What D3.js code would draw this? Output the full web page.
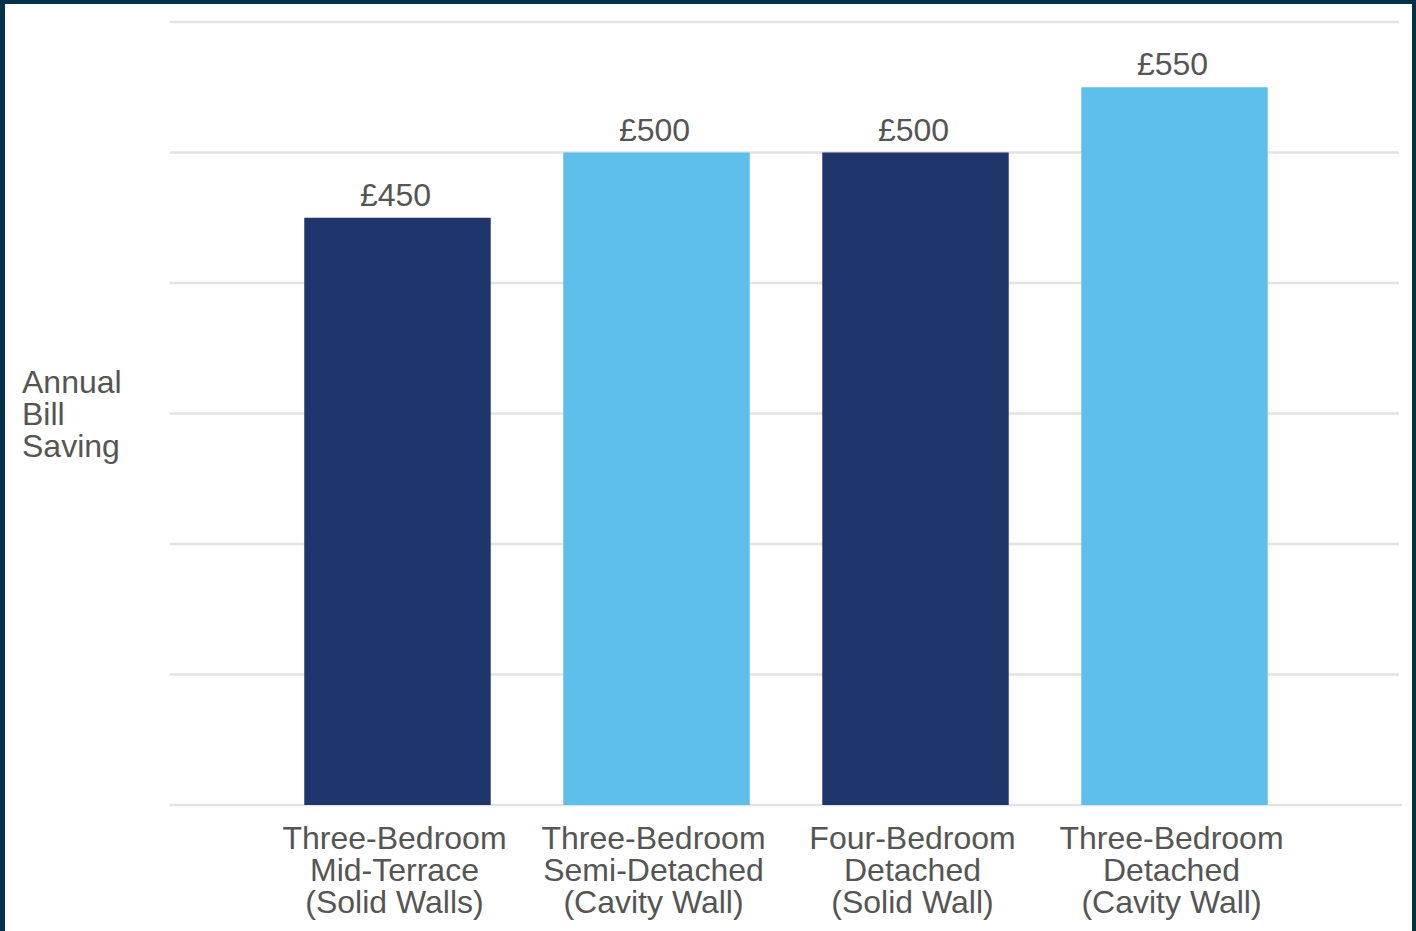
<!DOCTYPE html>
<meta charset="utf-8">
<script src="https://d3js.org/d3.v7.min.js"></script>
<style>
  html, body { margin: 0; padding: 0; background: #ffffff; }
  text { font-family: "Liberation Sans", Arial, sans-serif; fill: #555555; }
</style>
<body>
<div id="my_dataviz"></div>
<script>
    // chart data
    var categories = [
        ["Three-Bedroom", "Mid-Terrace", "(Solid Walls)"],
        ["Three-Bedroom", "Semi-Detached", "(Cavity Wall)"],
        ["Four-Bedroom", "Detached", "(Solid Wall)"],
        ["Three-Bedroom", "Detached", "(Cavity Wall)"]
    ];
    var savings = [450, 500, 500, 550];
    var valueLabels = ["£450", "£500", "£500", "£550"];
    var barColors = ["#1f366c", "#5fbfeb", "#1f366c", "#5fbfeb"];
    var gridTicks = [0, 100, 200, 300, 400, 500, 600];
    var yTitle = ["Annual", "Bill", "Saving"];

    var W = 1416, H = 931;

    var svg = d3.select("#my_dataviz")
        .append("svg")
        .attr("width", W)
        .attr("height", H);

    // dark frame
    svg.append("rect")
        .attr("x", 0).attr("y", 0)
        .attr("width", W).attr("height", H)
        .attr("fill", "#05304c");
    svg.append("rect")
        .attr("x", 5).attr("y", 4)
        .attr("width", 1407).attr("height", H - 4)
        .attr("fill", "#ffffff");

    var x = d3.scaleBand()
        .domain(d3.range(categories.length))
        .range([268, 1304])
        .paddingInner(0.28)
        .paddingOuter(0.14);

    var y = d3.scaleLinear()
        .domain([0, 600])
        .range([805, 22]);

    // gridlines
    svg.append("g")
        .selectAll("line")
        .data(gridTicks)
        .enter().append("line")
        .attr("x1", 170)
        .attr("x2", function(d) { return d === 0 ? 1402 : 1399; })
        .attr("y1", function(d) { return y(d); })
        .attr("y2", function(d) { return y(d); })
        .attr("stroke", "#e3e3e3")
        .attr("stroke-width", 2.5);

    // bars
    svg.append("g")
        .selectAll("rect")
        .data(savings)
        .enter().append("rect")
        .attr("x", function(d, i) { return x(i); })
        .attr("y", function(d) { return y(d); })
        .attr("width", x.bandwidth())
        .attr("height", function(d) { return y(0) - y(d); })
        .attr("fill", function(d, i) { return barColors[i]; });

    // value labels
    svg.append("g")
        .selectAll("text")
        .data(savings)
        .enter().append("text")
        .attr("x", function(d, i) { return x(i) + x.bandwidth() / 2 - 2; })
        .attr("y", function(d) { return y(d) - 12; })
        .attr("text-anchor", "middle")
        .style("font-size", "32px")
        .text(function(d, i) { return valueLabels[i]; });

    // category labels
    var cat = svg.append("g")
        .selectAll("text")
        .data(categories)
        .enter().append("text")
        .attr("text-anchor", "middle")
        .style("font-size", "32px");
    cat.selectAll("tspan")
        .data(function(d, i) { return d.map(function(s) { return { s: s, i: i }; }); })
        .enter().append("tspan")
        .attr("x", function(d) { return x(d.i) + x.bandwidth() / 2 - 3; })
        .attr("y", function(d, j) { return 849 + j * 32; })
        .text(function(d) { return d.s; });

    // y title
    svg.append("text")
        .style("font-size", "32px")
        .selectAll("tspan")
        .data(yTitle)
        .enter().append("tspan")
        .attr("x", 22)
        .attr("y", function(d, j) { return 393 + j * 32; })
        .text(function(d) { return d; });
</script>
</body>
